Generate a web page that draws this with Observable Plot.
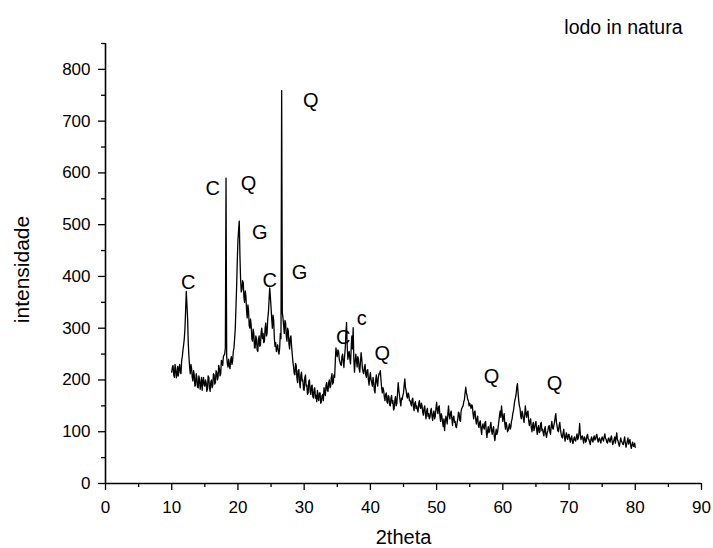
<!DOCTYPE html>
<html>
<head>
<meta charset="utf-8">
<script src="https://cdn.jsdelivr.net/npm/d3@7"></script>
<script src="https://cdn.jsdelivr.net/npm/@observablehq/plot@0.6"></script>
<style>
  html, body { margin: 0; padding: 0; background: #fff; }
  #chart { width: 713px; height: 548px; }
</style>
</head>
<body>
<div id="chart"></div>
<script>
// XRD pattern, sampled every 0.1 degree from 10 to 80 (2theta); one row per degree
const thetaStart = 10;
const thetaStep = 0.1;
const intensity = [
  215, 225, 228, 210, 205, 230, 222, 204, 210, 226,
  208, 222, 230, 214, 212, 238, 245, 258, 268, 280,
  300, 335, 371, 345, 318, 270, 245, 225, 212, 230,
  222, 205, 198, 218, 210, 188, 190, 212, 205, 186,
  185, 208, 200, 182, 192, 205, 180, 198, 205, 190,
  188, 200, 195, 178, 183, 208, 205, 185, 178, 196,
  200, 185, 190, 212, 210, 192, 195, 218, 215, 200,
  205, 228, 222, 208, 212, 238, 235, 228, 245, 248,
  250, 262, 590, 245, 232, 225, 240, 228, 222, 238,
  245, 230, 238, 255, 262, 280, 300, 340, 380, 430,
  470, 490, 507, 440, 395, 370, 375, 392, 388, 360,
  350, 372, 362, 335, 320, 345, 335, 305, 300, 318,
  305, 280, 275, 298, 290, 262, 262, 285, 280, 258,
  255, 278, 285, 265, 268, 292, 300, 280, 290, 272,
  275, 300, 310, 285, 290, 318, 330, 355, 378, 360,
  340, 318, 300, 325, 315, 280, 265, 272, 255, 262,
  268, 255, 250, 262, 290, 280, 759, 330, 320, 305,
  290, 315, 310, 285, 275, 300, 295, 270, 260, 282,
  285, 265, 250, 235, 225, 212, 210, 232, 228, 205,
  195, 218, 220, 195, 185, 210, 215, 198, 200, 182,
  180, 205, 210, 188, 190, 172, 175, 198, 200, 178,
  172, 188, 190, 168, 165, 182, 185, 165, 170, 158,
  180, 165, 160, 175, 175, 155, 157, 170, 172, 160,
  185, 175, 170, 190, 195, 180, 178, 195, 200, 185,
  188, 205, 212, 192, 195, 210, 205, 235, 262, 252,
  245, 258, 255, 240, 235, 230, 228, 245, 250, 235,
  224, 245, 260, 290, 311, 265, 240, 250, 255, 240,
  231, 262, 285, 260, 301, 240, 215, 235, 250, 238,
  225, 245, 240, 222, 215, 235, 253, 240, 222, 215,
  212, 225, 230, 210, 205, 218, 220, 200, 190, 205,
  214, 200, 195, 188, 205, 195, 180, 175, 200, 210,
  195, 188, 205, 212, 212, 218, 200, 185, 175, 185,
  180, 168, 160, 172, 175, 158, 155, 170, 168, 152,
  150, 165, 170, 155, 160, 142, 145, 162, 168, 150,
  155, 175, 195, 180, 170, 158, 150, 165, 162, 170,
  175, 190, 202, 185, 180, 168, 165, 175, 172, 160,
  160, 155, 150, 162, 165, 148, 141, 155, 158, 145,
  150, 142, 138, 155, 160, 148, 145, 155, 150, 138,
  132, 145, 150, 135, 125, 140, 145, 130, 135, 125,
  128, 140, 145, 130, 122, 135, 140, 125, 130, 145,
  157, 142, 135, 148, 150, 130, 120, 135, 130, 118,
  110, 125, 102, 118, 130, 125, 115, 135, 150, 132,
  125, 135, 140, 125, 112, 128, 130, 118, 120, 110,
  108, 118, 125, 138, 135, 122, 120, 140, 145, 148,
  150, 158, 162, 175, 186, 175, 170, 162, 160, 150,
  155, 150, 145, 152, 150, 135, 125, 138, 140, 125,
  115, 125, 130, 112, 108, 118, 121, 105, 95, 110,
  115, 108, 105, 118, 120, 100, 89, 102, 110, 98,
  100, 112, 118, 102, 95, 105, 110, 92, 83, 95,
  105, 95, 98, 110, 120, 132, 140, 128, 150, 135,
  120, 128, 135, 115, 105, 118, 112, 100, 102, 110,
  115, 105, 108, 120, 125, 135, 140, 150, 160, 165,
  172, 185, 193, 175, 160, 150, 145, 130, 125, 140,
  135, 125, 118, 132, 150, 135, 128, 138, 140, 122,
  112, 120, 125, 108, 100, 112, 118, 102, 108, 115,
  120, 105, 95, 108, 112, 98, 100, 115, 118, 102,
  105, 98, 92, 105, 110, 95, 89, 98, 102, 110,
  112, 100, 95, 110, 120, 108, 105, 112, 118, 128,
  135, 118, 110, 102, 100, 112, 118, 105, 96, 90,
  88, 98, 105, 90, 82, 92, 98, 88, 85, 95,
  95, 85, 80, 88, 92, 82, 77, 85, 90, 84,
  82, 90, 96, 85, 88, 98, 116, 95, 85, 90,
  92, 85, 78, 90, 88, 80, 82, 92, 95, 86,
  85, 80, 75, 85, 90, 83, 80, 88, 92, 84,
  86, 92, 95, 85, 80, 86, 88, 82, 78, 86,
  90, 85, 82, 90, 96, 88, 85, 80, 78, 86,
  88, 82, 80, 88, 92, 82, 75, 80, 85, 90,
  78, 88, 98, 85, 82, 76, 72, 80, 88, 82,
  80, 76, 75, 84, 90, 78, 70, 76, 82, 88,
  76, 82, 85, 74, 68, 75, 80, 72, 72, 78,
  70
];

// Phase labels
const peakLabels = ["C", "C", "Q", "G", "Q", "C", "G", "C", "c", "Q", "Q", "Q"];
const peakLabelX = [12.5, 16.2, 21.6, 23.3, 31.0, 24.8, 29.3, 35.9, 38.7, 41.8, 58.3, 67.8];
const peakLabelY = [388, 569, 579, 484, 739, 392, 407, 282, 318, 251, 206, 193];

// Axis ticks
const xMajorTicks = [0, 10, 20, 30, 40, 50, 60, 70, 80, 90];
const xMinorTicks = [5, 15, 25, 35, 45, 55, 65, 75, 85];
const yMajorTicks = [0, 100, 200, 300, 400, 500, 600, 700, 800];
const yMinorTicks = [50, 150, 250, 350, 450, 550, 650, 750, 850];

const title = "lodo in natura";
const xLabel = "2theta";
const yLabel = "intensidade";

const data = intensity.map((v, i) => ({x: +(thetaStart + i * thetaStep).toFixed(1), y: v}));
const labels = peakLabels.map((t, i) => ({t, x: peakLabelX[i], y: peakLabelY[i]}));

const font = "'Liberation Sans', Arial, Helvetica, sans-serif";

const chart = Plot.plot({
  width: 713,
  height: 548,
  marginLeft: 105,
  marginRight: 12,
  marginTop: 43,
  marginBottom: 65,
  style: {fontFamily: font, fontSize: "17px", color: "#000", background: "#fff"},
  x: {domain: [0, 90]},
  y: {domain: [0, 850]},
  marks: [
    Plot.axisX({ticks: xMajorTicks, tickSize: 7, tickPadding: 10, tickFormat: d => d, fontSize: 17, label: null, stroke: "#000", strokeWidth: 1.3, strokeOpacity: 1}),
    Plot.axisX({ticks: xMinorTicks, tickSize: 4, text: null, label: null, stroke: "#000", strokeWidth: 1.3, strokeOpacity: 1}),
    Plot.axisY({ticks: yMajorTicks, tickSize: 7, tickPadding: 8, tickFormat: d => d, fontSize: 17, label: null, stroke: "#000", strokeWidth: 1.3, strokeOpacity: 1}),
    Plot.axisY({ticks: yMinorTicks, tickSize: 4, text: null, label: null, stroke: "#000", strokeWidth: 1.3, strokeOpacity: 1}),
    Plot.ruleY([0], {stroke: "#000", strokeWidth: 1.6}),
    Plot.ruleX([0], {stroke: "#000", strokeWidth: 1.6}),
    Plot.lineY(data, {x: "x", y: "y", stroke: "#000", strokeWidth: 1.3}),
    Plot.text(labels, {x: "x", y: "y", text: "t", fontSize: 20, fill: "#000"}),
    Plot.text([title], {frameAnchor: "top-right", dx: -19, dy: -16, fontSize: 19.5, fill: "#000", textAnchor: "end", lineAnchor: "middle"}),
    Plot.text([xLabel], {frameAnchor: "bottom", dy: 54, fontSize: 20, fill: "#000", textAnchor: "middle", lineAnchor: "middle"}),
    Plot.text([yLabel], {frameAnchor: "left", dx: -83, dy: 6, rotate: -90, fontSize: 21, fill: "#000", textAnchor: "middle", lineAnchor: "middle"})
  ]
});

document.getElementById("chart").appendChild(chart);
</script>
</body>
</html>
